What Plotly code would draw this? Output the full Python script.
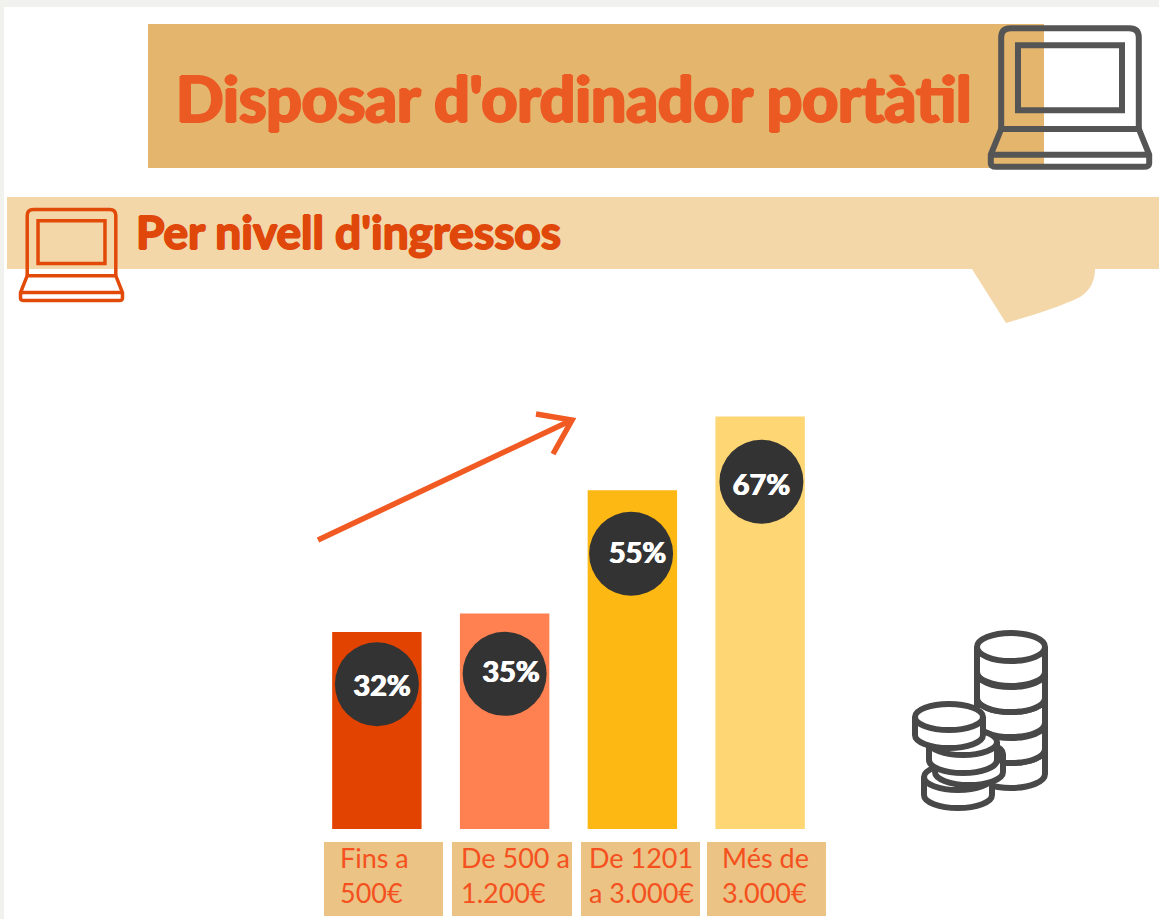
import plotly.graph_objects as go

W, H = 1159, 919

# ---- data ----
categories = ["Fins a<br>500€", "De 500 a<br>1.200€", "De 1201<br>a 3.000€", "Més de<br>3.000€"]
values = [32, 35, 55, 67]
value_labels = ["32%", "35%", "55%", "67%"]
bar_colors = ["#E24301", "#FF8050", "#FDB813", "#FED774"]
badge_x = [0.0, 0.0, -0.01, 0.01]
badge_y = [23.5, 25.2, 44.7, 56.4]
text_x = [0.04, 0.05, 0.04, 0.01]
text_y = [22.8, 25.0, 44.4, 55.4]
title_text = "Disposar d'ordinador portàtil"
subtitle_text = "Per nivell d'ingressos"

# ---- pixel helpers for the decoration ----
def fx(x): return x / W
def fy(y): return 1 - y / H
def P(x, y): return f"{fx(x):.5f},{fy(y):.5f}"

def rect(x0, y0, x1, y1, color, layer="below"):
    return dict(type="rect", xref="paper", yref="paper", x0=fx(x0), x1=fx(x1), y0=fy(y0), y1=fy(y1),
                fillcolor=color, line_width=0, layer=layer)

def path(d, line=None, width=0, fill=None, layer="above"):
    s = dict(type="path", xref="paper", yref="paper", path=d, layer=layer, line=dict(width=width))
    if line: s["line"]["color"] = line
    if fill: s["fillcolor"] = fill
    else: s["fillcolor"] = "rgba(0,0,0,0)"
    return s

def laptop(x0, y0, x1, y1, color, lw):
    w, h = x1 - x0, y1 - y0
    X = lambda a: x0 + a * w
    Y = lambda b: y0 + b * h
    body = ("M" + P(X(.07), Y(.72)) + "L" + P(X(.07), Y(.08)) + "Q" + P(X(.07), Y(.015)) + " " + P(X(.13), Y(.015))
            + "L" + P(X(.87), Y(.015)) + "Q" + P(X(.93), Y(.015)) + " " + P(X(.93), Y(.08)) + "L" + P(X(.93), Y(.72)))
    screen = "M" + P(X(.175), Y(.135)) + "L" + P(X(.825), Y(.135)) + "L" + P(X(.825), Y(.59)) + "L" + P(X(.175), Y(.59)) + "Z"
    base = ("M" + P(X(.07), Y(.72)) + "L" + P(X(.93), Y(.72)) + "L" + P(X(.995), Y(.90)) + "L" + P(X(.995), Y(.96)) + "Q" + P(X(.995), Y(.985)) + " " + P(X(.96), Y(.985))
            + "L" + P(X(.04), Y(.985)) + "Q" + P(X(.005), Y(.985)) + " " + P(X(.005), Y(.96)) + "L" + P(X(.005), Y(.90)) + "Z")
    band = "M" + P(X(.005), Y(.90)) + "L" + P(X(.995), Y(.90))
    return [path(d, color, lw) for d in (body, screen, base, band)]

def cylinder(cx, cy, rx, ry, h, color="#484848", lw=6):
    k = 0.5523
    outer = ("M" + P(cx - rx, cy) + "C" + P(cx - rx, cy - k * ry) + " " + P(cx - k * rx, cy - ry) + " " + P(cx, cy - ry)
             + "C" + P(cx + k * rx, cy - ry) + " " + P(cx + rx, cy - k * ry) + " " + P(cx + rx, cy)
             + "L" + P(cx + rx, cy + h)
             + "C" + P(cx + rx, cy + h + k * ry) + " " + P(cx + k * rx, cy + h + ry) + " " + P(cx, cy + h + ry)
             + "C" + P(cx - k * rx, cy + h + ry) + " " + P(cx - rx, cy + h + k * ry) + " " + P(cx - rx, cy + h) + "Z")
    front = ("M" + P(cx - rx, cy) + "C" + P(cx - rx, cy + k * ry) + " " + P(cx - k * rx, cy + ry) + " " + P(cx, cy + ry)
             + "C" + P(cx + k * rx, cy + ry) + " " + P(cx + rx, cy + k * ry) + " " + P(cx + rx, cy))
    return [path(outer, color, lw, "#FFFFFF"), path(front, color, lw)]

shapes = [
    rect(0, 0, W, H, "#F1F1EE"),
    rect(4, 7, W, H, "#FFFFFF"),
    rect(148, 24, 1044, 168, "#E4B56D"),
    rect(7, 197, W, 269, "#F3D7A9"),
    path("M" + P(972, 269) + "L" + P(1095, 269) + "C" + P(1095, 280) + " " + P(1091, 290) + " " + P(1080, 297)
         + "C" + P(1060, 307) + " " + P(1030, 316) + " " + P(1006, 323) + "Z",
         fill="#F3D7A9", layer="below"),
]
# value boxes under each column label
for x0, x1 in [(324, 443), (452, 572), (581, 700), (707, 826)]:
    shapes.append(rect(x0, 842, x1, 916, "#EBC385"))

shapes += laptop(990, 26, 1150, 169, "#555555", 6)
shapes += laptop(20, 208, 123, 302, "#E24A0A", 3.5)

# rising arrow
shapes.append(path("M" + P(318, 540) + "L" + P(572, 420), "#F15A22", 5.5))
shapes.append(path("M" + P(536, 414) + "L" + P(572, 420) + "L" + P(553, 454), "#F15A22", 5.5))

# coins
for cy in [749, 724, 698, 673, 647]:
    shapes += cylinder(1011, cy, 34, 14, 25)
for cx, cy in [(958, 777), (969, 754), (963, 742), (949, 717)]:
    shapes += cylinder(cx, cy, 34, 13, 18)

annotations = [
    dict(text=title_text, xref="paper", yref="paper", x=fx(174), y=fy(97), xanchor="left", yanchor="middle",
         showarrow=False, font=dict(family="Lato", size=62.5, color="#EC5A24", weight="bold",
                                    shadow="1.5px 0 #EC5A24, -1.5px 0 #EC5A24, 0 1px #EC5A24, 0 -1px #EC5A24")),
    dict(text=subtitle_text, xref="paper", yref="paper", x=fx(134), y=fy(232), xanchor="left", yanchor="middle",
         showarrow=False, font=dict(family="Lato", size=46, color="#E0470A", weight="bold",
                                    shadow="1px 0 #E0470A, -1px 0 #E0470A, 0 1px #E0470A, 0 -1px #E0470A")),
]
for cat, left in zip(categories, [338, 459, 587, 720]):
    annotations.append(dict(text=cat, xref="paper", yref="paper", x=fx(left), y=fy(875), xanchor="left", yanchor="middle",
                            align="left", showarrow=False,
                            font=dict(family="Lato", size=27, color="#F4511E")))

fig = go.Figure()
fig.add_trace(go.Bar(x=[0, 1, 2, 3], y=values, width=0.7, marker=dict(color=bar_colors, line_width=0),
                     hovertext=categories, showlegend=False))
fig.add_trace(go.Scatter(x=[i + d for i, d in enumerate(badge_x)], y=badge_y, mode="markers",
                         marker=dict(size=84, color="#333333", line_width=0), showlegend=False, hoverinfo="skip"))
fig.add_trace(go.Scatter(x=[i + d for i, d in enumerate(text_x)], y=text_y, mode="text", text=value_labels,
                         textposition="middle center",
                         textfont=dict(family="Lato", size=29, color="#FFFFFF", weight="bold",
                                       shadow="0.6px 0 #FFFFFF, -0.6px 0 #FFFFFF"),
                         showlegend=False, hoverinfo="skip"))

fig.update_layout(
    width=W, height=H, margin=dict(l=0, r=0, t=0, b=0),
    paper_bgcolor="#FFFFFF", plot_bgcolor="rgba(0,0,0,0)",
    shapes=shapes, annotations=annotations,
    xaxis=dict(domain=[fx(313), fx(824)], range=[-0.5, 3.5], visible=False),
    yaxis=dict(domain=[fy(829), fy(398)], range=[0, 70], visible=False),
)
fig.write_html("out.html", config=dict(displayModeBar=False),
               post_script="document.body.style.margin='0';document.body.style.overflow='hidden';")
